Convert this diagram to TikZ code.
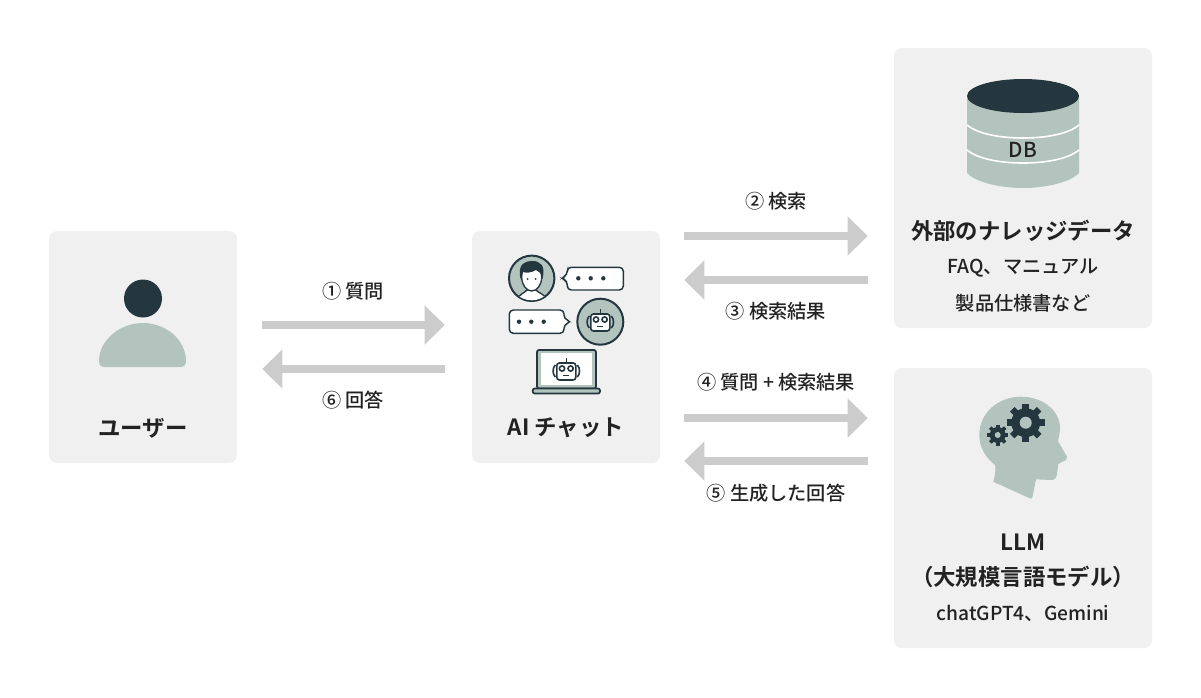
\documentclass[tikz,border=0pt]{standalone}
\usepackage{fontspec}
\setmainfont{Noto Sans CJK JP Medium}[BoldFont={Noto Sans CJK JP Bold}]
\usepackage{tikz}
\usetikzlibrary{arrows.meta}
\definecolor{panelgray}{HTML}{F0F0F0}
\definecolor{arrowgray}{HTML}{CCCCCC}
\definecolor{icondark}{HTML}{24363E}
\definecolor{iconsage}{HTML}{B3C4BF}
\definecolor{labeltext}{HTML}{222222}
\tikzset{
  robot/.pic={
    \draw[icondark,line width=1.2pt] (0,-8) -- (0,-13);
    \draw[icondark,line width=1.2pt] (-11,-6) .. controls (-14,-3) and (-14,3) .. (-11,6);
    \draw[icondark,line width=1.2pt] (11,-6) .. controls (14,-3) and (14,3) .. (11,6);
    \draw[icondark,fill=white,line width=1.2pt,rounded corners=2pt] (-9.5,-8) rectangle (9.5,9);
    \draw[icondark,line width=1.2pt] (-4.3,-2.5) circle[radius=2.6] (4.3,-2.5) circle[radius=2.6];
    \draw[icondark,line width=1.2pt] (-3,4.5) -- (3,4.5);
  },
  gear/.pic={
    \fill[icondark] (0,0) circle[radius=.76];
    \foreach \a in {0,45,...,315}
      \draw[icondark,line width=\gearsize*.34*.75pt] (\a:.6) -- (\a:1);
  },
}
\newcommand{\gearsize}{19}
\begin{document}
\begin{tikzpicture}[
    x=.75pt,y=-.75pt,
    every node/.style={font=\fontsize{14.4}{17}\selectfont,text=labeltext,inner sep=0pt},
    panel/.style={fill=panelgray,rounded corners=6pt,minimum width=#1},
    title/.style={font=\fontsize{16.8}{20}\bfseries\selectfont},
    arr/.style={-{Triangle[length=15pt,width=28.5pt]},arrowgray,line width=6.6pt},
    gapleft/.style={shorten <=18.75pt,shorten >=20.25pt},
    gapback/.style={shorten <=20.25pt,shorten >=18.75pt},
    gapright/.style={shorten <=18pt,shorten >=19.5pt},
    gapreturn/.style={shorten <=19.5pt,shorten >=18pt},
    bubble/.style={draw=icondark,fill=white,line width=1.1pt,rounded corners=3pt},
    ring/.style={draw=icondark,fill=iconsage,line width=1.5pt},
  ]
    \useasboundingbox (0,0) rectangle (1201,697);
    % panels
    \node[panel=141pt,minimum height=174pt] (user) at (143,347) {};
    \node[panel=141pt,minimum height=174pt] (chat) at (566,347) {};
    \node[panel=193.5pt,minimum height=210pt] (know) at (1023,188) {};
    \node[panel=193.5pt,minimum height=210pt] (llm) at (1023,508) {};

    % arrows
    \draw[arr,gapleft] (user.east |- 0,325) -- (chat.west |- 0,325);
    \draw[arr,gapback] (chat.west |- 0,369) -- (user.east |- 0,369);
    \draw[arr,gapright] (chat.east |- 0,236) -- (know.west |- 0,236);
    \draw[arr,gapreturn] (know.west |- 0,280) -- (chat.east |- 0,280);
    \draw[arr,gapright] (chat.east |- 0,418) -- (llm.west |- 0,418);
    \draw[arr,gapreturn] (llm.west |- 0,461) -- (chat.east |- 0,461);

    % arrow labels
    \node (ask) at (353,291) {① 質問};
    \node (ans) at (353,400.5) {⑥ 回答};
    \node (search) at (776,201) {② 検索};
    \node (found) at (776,311) {③ 検索結果};
    \node (both) at (776,382) {④ 質問\makebox[14.4pt]{+}検索結果};
    \node (made) at (776,493) {⑤ 生成した回答};

    % user icon
    \fill[icondark] (143,298.5) circle[radius=19];
    \fill[iconsage] (99,361) .. controls (99,340) and (120,323) .. (143,323)
      .. controls (166,323) and (186,340) .. (186,361)
      .. controls (186,365) and (184,367) .. (180,367) -- (105,367)
      .. controls (101,367) and (99,365) .. (99,361) -- cycle;
    \node[title] (usertext) at (143,428) {ユーザー};

    % chat icon
    \draw[ring] (531.7,278.3) circle[radius=22.7];
    \begin{scope}
      \clip (531.7,278.3) circle[radius=22];
      \draw[icondark,fill=white,line width=1pt] (516,302) .. controls (518,294) and (525,293) .. (527,290)
        -- (536,290) .. controls (538,293) and (546,294) .. (548,302) -- cycle;
    \end{scope}
    \draw[icondark,fill=white,line width=1pt] (531.7,277) ellipse[x radius=10,y radius=14];
    \fill[icondark] (520.5,279) .. controls (517,263) and (526,261) .. (532,261)
      .. controls (540,261) and (546,265) .. (542.5,279)
      .. controls (541,273) and (539,271) .. (536,270)
      .. controls (531,273) and (526,273) .. (523,272) .. controls (521,274) and (521,276) .. (520.5,279) -- cycle;
    \fill[icondark] (527.5,279) circle[radius=1] (535.5,279) circle[radius=1];
    \draw[bubble] (567.3,275) -- (561,278.3) -- (567.3,281) -- (567.3,290) -- (623.3,290) -- (623.3,267.3) -- (567.3,267.3) -- cycle;
    \fill[icondark] (578.3,278.3) circle[radius=2.2] (590.7,278.3) circle[radius=2.2] (603.3,278.3) circle[radius=2.2];
    \draw[bubble] (564,319) -- (571.5,321.7) -- (564,324.5) -- (564,333.3) -- (509.3,333.3) -- (509.3,310) -- (564,310) -- cycle;
    \fill[icondark] (519,321.7) circle[radius=2.2] (531.3,321.7) circle[radius=2.2] (543.7,321.7) circle[radius=2.2];
    \draw[ring] (600.3,321.7) circle[radius=23];
    \pic at (600.3,322) {robot};
    \draw[icondark,fill=iconsage,line width=1.3pt,rounded corners=1.5pt] (537,388.5) rectangle (596,350);
    \fill[white] (540.7,352.7) rectangle (592,385);
    \draw[icondark,fill=iconsage,line width=1.3pt,rounded corners=1.5pt] (532.7,393.5) rectangle (600,388.5);
    \pic at (566.3,371) {robot};
    \node[title] (chattext) at (566,427.5) {AI チャット};

    % database icon
    \fill[iconsage] (967,96) -- (967,173) .. controls (975,182) and (1000,188) .. (1023,188)
      .. controls (1046,188) and (1071,182) .. (1079,173) -- (1079,96) -- cycle;
    \draw[white,line width=1.2pt] (967,125) .. controls (978,134) and (1000,138) .. (1023,138)
      .. controls (1046,138) and (1068,134) .. (1079,125);
    \draw[white,line width=1.2pt] (967,150) .. controls (978,159) and (1000,163) .. (1023,163)
      .. controls (1046,163) and (1068,159) .. (1079,150);
    \fill[icondark] (1023,96) ellipse[x radius=56,y radius=17];
    \node[font=\fontsize{15.5}{17}\selectfont] (dbtext) at (1023,150) {DB};
    \node[title] (knowtitle) at (1023,230.5) {外部のナレッジデータ};
    \node (knowone) at (1023,268.5) {FAQ、マニュアル};
    \node (knowtwo) at (1023,303) {製品仕様書など};

    % head icon
    \fill[iconsage] (993.3,481.7) .. controls (995,475) and (996,470) .. (995,465)
      .. controls (985,457) and (979.3,447) .. (979.3,435)
      .. controls (979.3,413) and (998,396.7) .. (1021,396.7)
      .. controls (1042,396.7) and (1060,410) .. (1060,428)
      .. controls (1060,434) and (1058,438) .. (1058.3,441.7)
      -- (1067,456.7) .. controls (1067.5,459) and (1066,460) .. (1064,461)
      -- (1058.3,464) -- (1057,474) .. controls (1056.5,479) and (1054,480) .. (1050,480)
      -- (1036,479.3) -- (1032.5,497) .. controls (1032,499) and (1031,499) .. (1029,498)
      -- cycle;
    \renewcommand{\gearsize}{19}
    \pic[scale=19] at (1025.7,422.7) {gear};
    \fill[iconsage] (1025.7,422.7) circle[radius=6];
    \renewcommand{\gearsize}{10.5}
    \pic[scale=10.5] at (997.7,435) {gear};
    \fill[iconsage] (997.7,435) circle[radius=3];
    \node[title] (llmtitle) at (1023,542) {LLM};
    \node[title] (llmname) at (1023,577) {（大規模言語モデル）};
    \node (llmtext) at (1023,613.5) {chatGPT4、Gemini};
  \end{tikzpicture}
\end{document}
